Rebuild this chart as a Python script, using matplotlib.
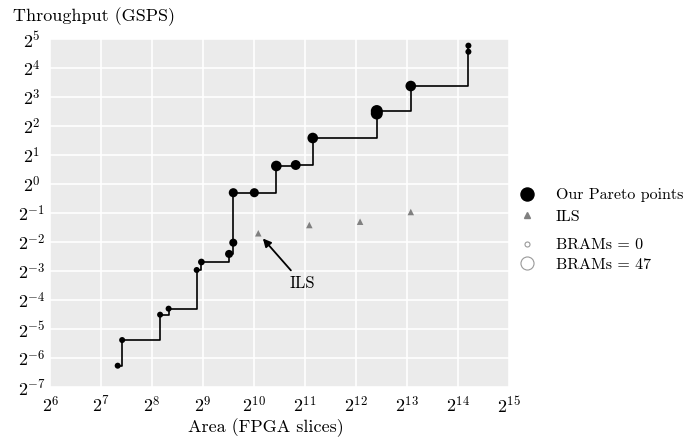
import numpy as np
import matplotlib
matplotlib.use('Agg')
import matplotlib.pyplot as plt
from matplotlib.lines import Line2D

plt.rcParams['font.family'] = 'serif'
plt.rcParams['font.serif'] = ['cmr10']
plt.rcParams['mathtext.fontset'] = 'cm'
plt.rcParams['axes.formatter.use_mathtext'] = True

# Pareto points (area in slices, throughput in GSPS, BRAM count)
pareto_area = [160, 170, 285, 320, 469, 500, 729, 772, 772, 1028, 1387, 1806,
               2277, 5446, 5446, 8651, 18956, 18956]
pareto_tp = [0.0130, 0.0240, 0.0440, 0.0508, 0.128, 0.155, 0.188, 0.246, 0.812,
             0.812, 1.538, 1.575, 3.002, 5.39, 5.72, 10.40, 23.6, 27.3]
pareto_brams = [6, 6, 6, 6, 6, 10, 18, 18, 24, 24, 33, 29, 33, 41, 41, 33, 6, 6]

# ILS reference designs
ils_area = [1085, 2174, 4338, 8651]
ils_tp = [0.308, 0.375, 0.406, 0.512]

xtick_exp = list(range(6, 16))
ytick_exp = list(range(-7, 6))


def bram_size(b):
    # diameter in px -> marker area in pt^2
    d = 5 + 8 * np.asarray(b) / 47.0
    return (d / 1.389) ** 2


fig = plt.figure(figsize=(6.89, 4.44), dpi=100)
ax = fig.add_axes([50.4 / 689, 57 / 444, 458.2 / 689, 348 / 444])
ax.set_facecolor('#ebebeb')
for s in ax.spines.values():
    s.set_visible(False)

ax.set_xscale('log', base=2)
ax.set_yscale('log', base=2)
ax.set_xlim(2.0 ** 6, 2.0 ** 15)
ax.set_ylim(2.0 ** -7, 2.0 ** 5)
ax.set_xticks([2.0 ** e for e in xtick_exp])
ax.set_xticklabels([r'$2^{%d}$' % e for e in xtick_exp])
ax.set_yticks([2.0 ** e for e in ytick_exp])
ax.set_yticklabels([r'$2^{%d}$' % e for e in ytick_exp])
ax.minorticks_off()
ax.tick_params(axis='both', length=0, labelsize=13)
ax.tick_params(axis='x', pad=6)
ax.tick_params(axis='y', pad=13.3)
for lab in ax.get_yticklabels():
    lab.set_horizontalalignment('center')
ax.grid(True, color='white', linewidth=1.2)
ax.set_axisbelow(True)

ax.plot(pareto_area, pareto_tp, drawstyle='steps-post', color='black', lw=1.2, zorder=2)
ax.scatter(pareto_area, pareto_tp, s=bram_size(pareto_brams), color='black',
           edgecolors='none', zorder=3)
ax.scatter(ils_area, ils_tp, marker='^', s=22, color='#808080', edgecolors='none', zorder=3)

ax.annotate('ILS', xy=(ils_area[0], ils_tp[0]), xytext=(2 ** 10.94, 2 ** -3.41),
            ha='center', va='center', fontsize=12,
            arrowprops=dict(arrowstyle='-|>', color='black', lw=1.3,
                            shrinkA=2, shrinkB=5, mutation_scale=12))

ax.set_xlabel('Area (FPGA slices)', fontsize=13)
ax.xaxis.set_label_coords(0.470, -0.118)
ax.xaxis.label.set_verticalalignment('center')
ax.set_ylabel('Throughput (GSPS)', fontsize=13, rotation=0, ha='left', va='center')
ax.yaxis.set_label_coords(-0.0816, 1.063)

h1 = [Line2D([], [], ls='none', marker='o', color='black', markersize=9.4),
      Line2D([], [], ls='none', marker='^', color='#808080', markersize=5)]
leg1 = fig.legend(h1, ['Our Pareto points', 'ILS'], loc='center left',
                  bbox_to_anchor=(505 / 689, 1 - 206 / 444), frameon=False,
                  fontsize=11.5, handletextpad=0.78, labelspacing=0.45, borderaxespad=0)
h2 = [Line2D([], [], ls='none', marker='o', mfc='none', mec='#999999', mew=0.8,
             markersize=3.6),
      Line2D([], [], ls='none', marker='o', mfc='none', mec='#999999', mew=0.8,
             markersize=9.4)]
leg2 = fig.legend(h2, ['BRAMs = 0', 'BRAMs = 47'], loc='center left',
                  bbox_to_anchor=(505 / 689, 1 - 255 / 444), frameon=False,
                  fontsize=11.5, handletextpad=0.78, labelspacing=0.35, borderaxespad=0)

fig.savefig('out.png', dpi=100)
